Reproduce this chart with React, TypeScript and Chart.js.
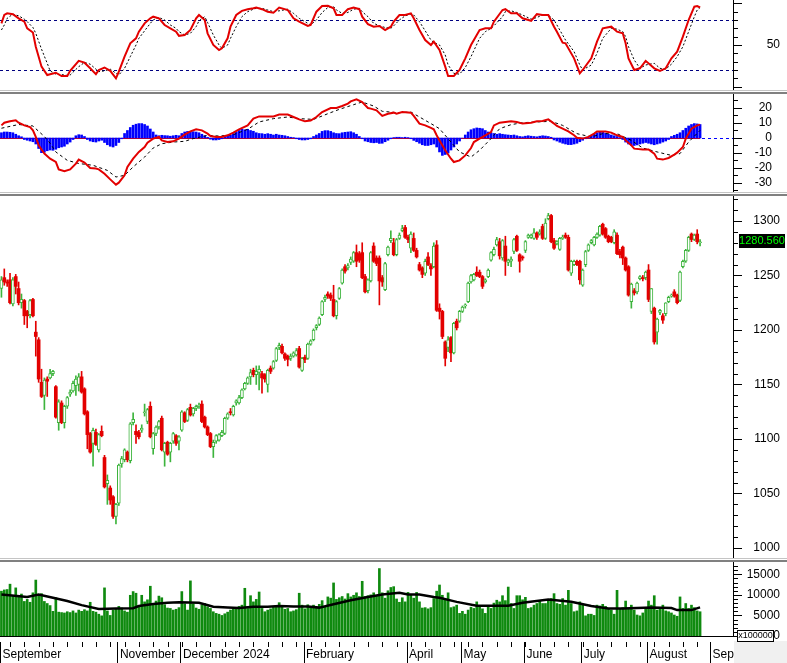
import React, { useEffect, useRef } from "react";
import { Chart, registerables } from "chart.js";

Chart.register(...registerables);

const FONT = "'Liberation Sans', Arial, Helvetica, sans-serif";
Chart.defaults.font.family = FONT;

// ---------------- DATA ----------------
const MONTH_LABELS = ["September", "November", "December", "2024", "February", "April", "May", "June", "July", "August", "September"];
const MONTH_START = [0, 41, 63, 84, 106, 142, 161, 183, 203, 226, 248];
const YEAR_MARK = [false, false, false, true, false, false, false, false, false, false, false];
const WEEK_TICKS = [3, 8, 13, 18, 23, 28, 33, 38, 43, 48, 53, 58, 63, 68, 73, 78, 83, 88, 93, 98, 103, 108, 113, 118, 123, 128, 133, 138, 143, 148, 153, 158, 163, 168, 173, 178, 183, 188, 193, 198, 203, 208, 213, 218, 223, 228, 233, 238, 243];

const OPEN = [
  1238, 1248, 1244, 1246, 1224, 1249, 1238, 1225, 1227, 1217,
  1214, 1228, 1198, 1191, 1152, 1140, 1155, 1156, 1160, 1148,
  1115, 1133, 1115, 1130, 1141, 1144, 1149, 1150, 1157, 1146,
  1125, 1105, 1096, 1106, 1090, 1107, 1083, 1059, 1055, 1047,
  1029, 1041, 1077, 1081, 1088, 1080, 1115, 1107, 1106, 1108,
  1124, 1116, 1130, 1091, 1105, 1111, 1119, 1088, 1097, 1088,
  1098, 1103, 1098, 1108, 1124, 1117, 1129, 1123, 1128, 1130,
  1132, 1120, 1111, 1105, 1093, 1098, 1099, 1103, 1105, 1119,
  1125, 1122, 1133, 1133, 1138, 1146, 1151, 1157, 1163, 1159,
  1161, 1160, 1159, 1150, 1165, 1165, 1172, 1184, 1185, 1178,
  1176, 1174, 1176, 1177, 1183, 1163, 1175, 1174, 1187, 1191,
  1202, 1205, 1214, 1228, 1233, 1232, 1228, 1213, 1229, 1243,
  1258, 1257, 1262, 1263, 1271, 1270, 1271, 1249, 1236, 1245,
  1277, 1266, 1266, 1248, 1237, 1269, 1282, 1280, 1269, 1284,
  1291, 1294, 1285, 1275, 1284, 1273, 1260, 1257, 1252, 1267,
  1259, 1258, 1278, 1220, 1217, 1189, 1184, 1193, 1179, 1208,
  1208, 1217, 1222, 1226, 1244, 1246, 1253, 1253, 1249, 1244,
  1249, 1264, 1269, 1278, 1281, 1266, 1277, 1262, 1263, 1272,
  1286, 1269, 1267, 1273, 1285, 1285, 1284, 1289, 1288, 1295,
  1284, 1302, 1305, 1282, 1279, 1274, 1284, 1287, 1285, 1252,
  1260, 1263, 1263, 1241, 1260, 1273, 1280, 1278, 1285, 1287,
  1297, 1293, 1286, 1285, 1280, 1287, 1272, 1276, 1266, 1258,
  1226, 1236, 1235, 1247, 1248, 1248, 1255, 1217, 1220, 1198,
  1216, 1213, 1215, 1226, 1231, 1235, 1232, 1227, 1258, 1263,
  1273, 1288, 1283, 1288, 1280,
];
const HIGH = [
  1249, 1256, 1246, 1252, 1248, 1251, 1244, 1233, 1228, 1218,
  1228, 1229, 1208, 1193, 1164, 1156, 1157, 1164, 1163, 1149,
  1136, 1135, 1131, 1139, 1145, 1153, 1158, 1160, 1162, 1147,
  1126, 1106, 1110, 1109, 1105, 1112, 1085, 1067, 1057, 1048,
  1041, 1077, 1084, 1091, 1089, 1115, 1124, 1113, 1108, 1113,
  1132, 1128, 1134, 1106, 1112, 1117, 1121, 1097, 1098, 1097,
  1106, 1104, 1103, 1126, 1125, 1128, 1132, 1129, 1131, 1133,
  1135, 1121, 1112, 1106, 1099, 1104, 1105, 1108, 1120, 1124,
  1128, 1131, 1136, 1140, 1146, 1152, 1157, 1164, 1165, 1167,
  1167, 1162, 1160, 1164, 1167, 1172, 1184, 1188, 1187, 1179,
  1177, 1178, 1180, 1183, 1185, 1175, 1177, 1188, 1191, 1201,
  1205, 1212, 1227, 1232, 1235, 1234, 1241, 1227, 1239, 1256,
  1260, 1261, 1267, 1272, 1278, 1272, 1280, 1251, 1247, 1272,
  1280, 1268, 1268, 1250, 1262, 1277, 1291, 1284, 1284, 1289,
  1296, 1296, 1287, 1290, 1289, 1275, 1262, 1258, 1265, 1271,
  1261, 1280, 1282, 1224, 1218, 1190, 1194, 1194, 1207, 1210,
  1218, 1222, 1224, 1244, 1251, 1252, 1258, 1255, 1250, 1247,
  1256, 1272, 1276, 1285, 1284, 1283, 1286, 1265, 1267, 1284,
  1287, 1270, 1268, 1282, 1288, 1288, 1293, 1290, 1292, 1297,
  1302, 1307, 1306, 1284, 1282, 1285, 1287, 1289, 1287, 1264,
  1264, 1264, 1264, 1256, 1273, 1279, 1283, 1286, 1289, 1296,
  1298, 1294, 1287, 1286, 1292, 1289, 1274, 1277, 1267, 1259,
  1243, 1238, 1244, 1250, 1250, 1254, 1260, 1238, 1221, 1211,
  1219, 1215, 1225, 1231, 1233, 1237, 1233, 1254, 1264, 1274,
  1286, 1289, 1288, 1292, 1283,
];
const LOW = [
  1230, 1241, 1240, 1224, 1222, 1233, 1223, 1220, 1205, 1202,
  1211, 1212, 1176, 1152, 1138, 1127, 1139, 1155, 1158, 1119,
  1108, 1114, 1110, 1128, 1139, 1143, 1140, 1144, 1142, 1122,
  1091, 1087, 1075, 1094, 1088, 1102, 1055, 1040, 1040, 1027,
  1022, 1039, 1074, 1079, 1079, 1078, 1113, 1096, 1100, 1106,
  1121, 1114, 1101, 1086, 1103, 1109, 1089, 1075, 1085, 1079,
  1096, 1094, 1090, 1107, 1115, 1116, 1121, 1121, 1126, 1128,
  1115, 1110, 1103, 1092, 1083, 1096, 1098, 1102, 1104, 1118,
  1122, 1121, 1131, 1132, 1137, 1145, 1150, 1150, 1157, 1150,
  1145, 1142, 1152, 1143, 1160, 1164, 1171, 1182, 1178, 1172,
  1167, 1172, 1175, 1176, 1165, 1162, 1170, 1173, 1186, 1190,
  1200, 1204, 1213, 1226, 1229, 1227, 1212, 1210, 1228, 1242,
  1252, 1255, 1260, 1262, 1258, 1262, 1247, 1234, 1234, 1244,
  1262, 1259, 1223, 1240, 1236, 1268, 1280, 1268, 1268, 1283,
  1290, 1284, 1280, 1271, 1272, 1266, 1254, 1248, 1250, 1259,
  1250, 1257, 1217, 1210, 1192, 1167, 1180, 1171, 1178, 1200,
  1207, 1216, 1220, 1225, 1243, 1245, 1249, 1248, 1238, 1243,
  1248, 1263, 1268, 1277, 1265, 1264, 1250, 1259, 1258, 1270,
  1272, 1253, 1264, 1271, 1284, 1284, 1283, 1283, 1287, 1283,
  1283, 1301, 1280, 1274, 1278, 1273, 1283, 1284, 1254, 1250,
  1259, 1259, 1242, 1240, 1258, 1272, 1279, 1277, 1284, 1286,
  1287, 1284, 1280, 1280, 1279, 1269, 1266, 1260, 1254, 1231,
  1220, 1232, 1233, 1246, 1245, 1246, 1226, 1215, 1187, 1187,
  1214, 1206, 1213, 1225, 1230, 1230, 1224, 1226, 1257, 1262,
  1272, 1281, 1282, 1279, 1277,
];
const CLOSE = [
  1246, 1244, 1243, 1225, 1246, 1240, 1225, 1228, 1213, 1213,
  1227, 1213, 1194, 1155, 1139, 1154, 1153, 1160, 1162, 1120,
  1134, 1115, 1130, 1138, 1143, 1151, 1155, 1157, 1143, 1123,
  1104, 1088, 1108, 1095, 1104, 1103, 1056, 1062, 1044, 1029,
  1040, 1076, 1082, 1090, 1081, 1114, 1118, 1104, 1102, 1110,
  1125, 1127, 1102, 1105, 1111, 1116, 1090, 1096, 1086, 1096,
  1105, 1096, 1102, 1125, 1116, 1127, 1122, 1128, 1130, 1131,
  1116, 1111, 1104, 1093, 1097, 1103, 1104, 1106, 1119, 1123,
  1124, 1130, 1135, 1138, 1145, 1151, 1156, 1161, 1159, 1162,
  1164, 1156, 1155, 1163, 1162, 1171, 1183, 1186, 1179, 1174,
  1173, 1176, 1179, 1181, 1166, 1174, 1173, 1187, 1190, 1200,
  1204, 1211, 1226, 1230, 1231, 1229, 1213, 1226, 1238, 1255,
  1254, 1259, 1265, 1271, 1263, 1264, 1248, 1235, 1246, 1271,
  1263, 1261, 1245, 1244, 1261, 1276, 1284, 1269, 1283, 1287,
  1293, 1285, 1283, 1288, 1273, 1267, 1255, 1251, 1263, 1260,
  1256, 1277, 1218, 1217, 1194, 1174, 1191, 1179, 1206, 1202,
  1217, 1221, 1223, 1243, 1250, 1251, 1250, 1249, 1240, 1246,
  1255, 1271, 1274, 1283, 1268, 1282, 1263, 1264, 1265, 1283,
  1273, 1263, 1266, 1281, 1287, 1287, 1289, 1285, 1290, 1284,
  1298, 1305, 1281, 1275, 1281, 1284, 1285, 1285, 1255, 1263,
  1263, 1260, 1246, 1255, 1272, 1278, 1282, 1285, 1288, 1295,
  1288, 1285, 1281, 1281, 1290, 1270, 1269, 1266, 1255, 1232,
  1242, 1234, 1243, 1249, 1247, 1253, 1228, 1238, 1189, 1210,
  1218, 1209, 1225, 1230, 1232, 1231, 1225, 1253, 1263, 1273,
  1285, 1283, 1287, 1281, 1280.56,
];
const VOLUME = [
  10900, 11200, 11300, 12600, 9700, 11700, 9500, 10200, 8400, 8900,
  8200, 10500, 13600, 10000, 10300, 8400, 7900, 7400, 6000, 9300,
  5800, 5700, 5600, 5900, 5700, 6100, 5600, 6300, 6000, 6400,
  6100, 8200, 6000, 5800, 5300, 4900, 11700, 6100, 5000, 6300,
  6700, 7200, 6800, 6100, 5800, 9900, 10800, 10400, 7400, 9900,
  8300, 8800, 12100, 7600, 8500, 9700, 9300, 7600, 6800, 6700,
  6300, 6500, 6900, 10800, 7800, 6300, 13400, 7800, 6800, 6500,
  7600, 7900, 7100, 6700, 5900, 5500, 5300, 5000, 5400, 5800,
  6300, 6600, 6800, 7200, 7500, 11600, 6700, 9800, 8300, 8900,
  10700, 6700, 5900, 6300, 6600, 7000, 7300, 8100, 7100, 6500,
  6700, 5900, 6100, 6400, 10400, 7500, 6600, 7600, 7100, 7500,
  6900, 7700, 8600, 7100, 9500, 9200, 12900, 8900, 9300, 9600,
  9000, 10300, 9500, 9900, 10500, 9600, 13300, 9600, 9800, 10000,
  10500, 9700, 16400, 10500, 9200, 11000, 11800, 12000, 9000, 8200,
  9300, 8300, 10600, 10100, 9200, 10600, 8300, 6800, 6900, 6600,
  6900, 9100, 10900, 12400, 9900, 8800, 10500, 6900, 7100, 7500,
  5500, 6000, 5300, 6300, 7000, 6700, 8300, 7200, 6600, 5500,
  7300, 6700, 8000, 8700, 8300, 9800, 8600, 11900, 7900, 6700,
  9800, 9800, 8800, 9400, 6700, 6900, 7500, 7900, 8500, 7900,
  7900, 8500, 9100, 10300, 7900, 7700, 9100, 7500, 11100, 7900,
  5900, 6100, 8300, 7500, 4900, 5300, 5300, 5000, 7500, 7300,
  7700, 7200, 6700, 6300, 5300, 11100, 6700, 6900, 8500, 6700,
  7500, 6300, 5100, 4900, 5600, 6700, 8500, 7500, 9800, 6300,
  6700, 7500, 6100, 5900, 5600, 5100, 4800, 9500, 6700, 7900,
  6700, 7500, 6900, 6100, 5900,
];
const VOL_MA_X = [0, 9, 13, 18, 23, 28, 34, 40, 46, 48, 53, 58, 62, 69, 74, 79, 83, 88, 93, 97, 102, 107, 111, 116, 122, 128, 133, 139, 142, 146, 151, 153, 159, 166, 177, 182, 191, 199, 206, 212, 217, 227, 234, 236, 241, 244];
const VOL_MA = [10100, 9500, 10100, 9300, 8500, 7500, 6550, 6700, 6750, 7300, 7770, 8100, 8200, 8100, 7100, 6900, 6800, 7100, 7100, 7300, 7200, 7200, 6900, 7700, 8700, 9500, 10100, 10500, 10100, 10100, 9500, 9300, 8300, 7350, 7350, 8100, 8900, 8300, 7300, 6700, 6700, 6900, 6800, 6300, 6300, 6950];

const STOCH_X = [
  0, 1, 2, 4, 6, 8, 9, 11, 12, 14,
  16, 17, 19, 21, 23, 24, 27, 29, 31, 33,
  34, 36, 38, 40, 41, 43, 45, 47, 48, 50,
  52, 53, 55, 57, 59, 61, 62, 64, 66, 68,
  69, 71, 72, 74, 76, 77, 79, 80, 82, 84,
  86, 88, 89, 91, 93, 95, 97, 100, 102, 104,
  107, 108, 110, 112, 114, 116, 117, 119, 121, 123,
  125, 126, 128, 130, 132, 134, 136, 137, 139, 141,
  143, 144, 146, 148, 150, 151, 153, 155, 156, 158,
  160, 162, 164, 167, 169, 171, 172, 175, 176, 178,
  180, 182, 185, 187, 189, 191, 193, 194, 196, 197,
  200, 202, 203, 206, 208, 210, 213, 215, 217, 218,
  219, 221, 223, 225, 228, 230, 232, 234, 236, 238,
  240, 242, 243, 244,
];
const STOCH_K = [
  76, 86, 88, 87, 82, 78, 70, 65, 48, 24,
  14, 15, 16.7, 12.8, 12.8, 19, 31, 28.8, 22, 15,
  20, 23, 19, 10, 18, 36, 52, 58, 66, 76,
  82, 84, 82, 74, 70, 66, 61, 62, 68, 82,
  86, 80, 64, 50, 44, 46, 58, 72, 86, 91,
  93, 94, 95, 93, 90, 88.8, 95, 92, 82, 78,
  72.8, 74, 90, 96.8, 97, 94, 86, 86, 93, 95,
  93, 84, 75, 72, 72.8, 68, 72, 78, 86, 86,
  88, 82, 68, 56, 50, 54, 44, 24, 12.8, 12.8,
  20, 34, 50, 68, 70, 70, 78, 92, 93, 88,
  88, 82, 79, 87, 86, 86, 72, 66, 52.8, 52,
  34, 16, 20, 34, 54, 70, 72, 66, 64, 52,
  34, 20, 22, 31, 22, 19, 22, 34, 42, 60,
  80, 96, 96.8, 95,
];
const STOCH_D = [
  68, 74, 82, 87, 85, 81, 78, 71, 64, 45,
  28, 19, 15, 14.5, 13.5, 14, 24, 29, 27, 21,
  18, 19, 21, 16, 14, 22, 36, 50, 58, 67,
  76, 80, 83, 80, 74, 70, 66, 62, 64, 72,
  79, 84, 77, 62, 50, 46, 50, 58, 72, 84,
  90, 93, 94, 94, 92, 90, 91, 93, 88, 82,
  76, 74, 80, 89, 95, 96, 92, 88, 89, 93,
  94, 90, 84, 76, 73, 71, 70, 73, 80, 85,
  87, 86, 78, 67, 56, 53, 50, 38, 26, 16,
  15, 23, 36, 58, 66, 70, 73, 84, 90, 91,
  89, 86, 81, 83, 86, 86, 80, 74, 62, 56,
  42, 26, 20, 26, 40, 58, 70, 69, 66, 60,
  48, 32, 22, 26, 28, 22, 21, 27, 36, 48,
  66, 84, 92, 95,
];

const MACD_X = [
  0, 1, 3, 5, 6, 8, 10, 11, 12, 13,
  15, 17, 19, 20, 22, 24, 26, 27, 29, 31,
  33, 34, 36, 38, 40, 41, 43, 44, 46, 48,
  50, 51, 53, 55, 56, 58, 60, 62, 64, 66,
  68, 70, 72, 73, 75, 77, 79, 81, 83, 86,
  88, 90, 93, 95, 97, 100, 102, 104, 106, 108,
  110, 112, 115, 117, 119, 121, 122, 124, 126, 128,
  129, 131, 133, 135, 137, 138, 140, 143, 144, 146,
  148, 150, 151, 152, 153, 155, 157, 158, 160, 162,
  164, 165, 167, 169, 171, 172, 174, 176, 178, 180,
  182, 185, 187, 189, 191, 193, 194, 196, 198, 200,
  201, 203, 205, 207, 208, 211, 213, 215, 217, 218,
  220, 221, 224, 226, 228, 229, 231, 233, 235, 236,
  238, 239, 241, 243, 244,
];
const MACD_LINE = [
  8.4, 10.2, 11.1, 11.8, 10.2, 8.4, 7.3, 5.1, 0.7, -4.9,
  -10.4, -13.8, -16, -20.9, -22.2, -20.9, -17.1, -14.4, -16.4, -20,
  -20.4, -20.9, -23.8, -27.6, -31.1, -29.8, -24.9, -19.3, -13.8, -9.3,
  -6, -3.1, -0.4, 0.7, -1.6, -2.7, -2.2, -0.4, 2.2, 4.4,
  5.8, 5.1, 2.9, 1.3, 0.7, 0.7, 1.8, 3.6, 5.8, 8.4,
  12.9, 14.4, 14.4, 14.4, 15.6, 15.6, 14, 12.4, 11.1, 11.6,
  14, 17.3, 20, 20, 21.3, 22.9, 24.4, 25.8, 24, 20,
  19.6, 18.4, 14.7, 16.2, 16.9, 16.2, 17.3, 16.9, 14.7, 9.6,
  8.4, 6.7, 5.8, 1.8, -1.6, -8.2, -13.8, -16, -14.9, -11.6,
  -6.7, -2.7, -0.4, 1.8, 4, 8.4, 10.2, 10.7, 11.1, 10.7,
  9.6, 10.2, 11.1, 11.3, 12.4, 9.6, 8, 6.2, 4.4, 1.8,
  0.2, -0.4, 0.7, 2.9, 4.4, 4.4, 3.6, 1.8, 0.7, -1.6,
  -4.9, -7.1, -7.6, -7.6, -10.4, -13.8, -14.4, -13.3, -11.1, -9.8,
  -6, -0.4, 6.2, 8.4, 8.9,
];
const SIGNAL_X = [0, 6, 11, 12, 15, 17, 19, 23, 27, 32, 37, 40, 43, 46, 50, 53, 56, 60, 64, 67, 72, 76, 81, 86, 90, 95, 100, 104, 109, 114, 118, 123, 126, 130, 133, 138, 143, 146, 150, 153, 157, 160, 164, 167, 171, 174, 178, 182, 187, 192, 196, 201, 206, 210, 215, 220, 224, 229, 234, 237, 240, 244];
const SIGNAL_LINE = [6.5, 9, 8, 6.2, 1, -3.5, -9.3, -14.9, -17, -18.2, -21.6, -26, -24.9, -19.3, -12.7, -6.7, -3.8, -2.7, -2.2, -0.4, 1.8, 1.3, 2.2, 5.8, 10.7, 12.9, 14, 12.9, 12.4, 16.2, 19.1, 22.2, 24, 21.3, 17.8, 16.9, 17.3, 14, 9.6, 6.2, -2.7, -9.3, -12.7, -8.2, -0.4, 6.2, 8.9, 10.2, 10.7, 11.1, 8.4, 2.9, 0.7, 2.9, 2.9, -1.6, -6.7, -9.3, -11.6, -10.4, -2.7, 5.1];
const MACD_HIST = [
  3.5, 4, 4, 3.8, 3.5, 2.5, 1.5, 0.8, -1, -1.5,
  -2, -2.5, -4, -7, -9.8, -9.5, -8.5, -8, -8.2, -7.5,
  -6.5, -6, -5.5, -4, -2.7, -1, 1.5, 2.2, 2, 1,
  -1, -2, -2.5, -2.7, -2, -1.5, -3, -4.5, -5.5, -6,
  -5, -3, -0.5, 3, 5, 7, 8.5, 9.2, 9.6, 9.6,
  9, 8, 6, 4, 2, 1.5, 1.8, 1.6, 1.5, 1.2,
  1.5, 1.8, 1.5, 3, 4, 4.4, 4.4, 4.2, 4, 3.5,
  2.5, 1.5, 0.5, -0.8, -1.3, -1.3, -1, -0.5, 0.5, 1.5,
  2, 3, 4, 5, 5.8, 5.5, 5.8, 5, 4.5, 3.5,
  3, 2.9, 2.5, 2.9, 2.5, 2, 2.5, 2, 1.8, 1.5,
  1, 0.5, 0.3, -0.5, -1, -1.3, -1.3, -1, -0.5, 1,
  2, 3, 4.4, 4.9, 4.9, 4.4, 3.5, 3, 2.9, 3.5,
  3.8, 4, 4.2, 3.5, 2.5, 1, -0.5, -2, -2.5, -3,
  -3.2, -3, -3.6, -3.5, -2.5, -1.5, -0.5, 0.3, 0.5, 0.5,
  0.3, 0.5, 0.3, -0.5, -1.6, -2.5, -3.5, -4.5, -5, -5,
  -4.5, -4, -6, -9.3, -11.6, -11, -10, -8, -6, -4,
  -2, 0, 2, 4, 5.5, 6.2, 6.7, 6.5, 6.2, 5,
  4, 3.5, 3, 2.5, 2.9, 2.5, 2.2, 2, 1.8, 2,
  1.5, 1, 0.8, 1.2, 1.5, 1.2, 1, 0.8, 1.2, 1.5,
  1.3, 1, 0.5, -1.3, -2, -2.8, -3.5, -4, -4.4, -4.4,
  -4, -3.5, -2.5, -1.5, -0.5, 0.5, 1.8, 2.5, 3.5, 4,
  3.8, 3.2, 2.5, 2, 1.5, 1, 0.3, -1, -2.7, -4,
  -4.9, -5, -4.6, -4, -3.5, -3, -3.5, -4, -4.5, -4,
  -3.5, -2.7, -2, -1, 1, 1.8, 2.5, 3.5, 5, 6.5,
  8, 9, 9.6, 9.4, 9,
];

const PRICE_LABELS = [1000, 1050, 1100, 1150, 1200, 1250, 1300];
const STOCH_LABELS = [50];
const STOCH_LEVELS = [20, 80];
const MACD_LABELS = [-30, -20, -10, 0, 10, 20];
const VOL_LABELS = [0, 5000, 10000, 15000];
const VOL_UNIT = "x100000";

// ---------------- STYLE / LAYOUT ----------------
const W = 787;
const AXIS_W = 54;
const SLOTS = 256;
const RED = "#e30000";
const GREEN = "#3db43d";
const VOL_GREEN = "#0f8a0f";
const BLUE = "#0000ff";
const NAVY = "#000080";

const range = (a: number, b: number, s: number) => {
  const out: number[] = [];
  for (let v = a; v <= b + 1e-9; v += s) out.push(v);
  return out;
};
const pts = (xs: number[], ys: number[]) => xs.map((x, i) => ({ x, y: ys[i] }));
const IDX = CLOSE.map((_, i) => i);

const common = {
  responsive: false,
  animation: false,
  events: [],
  layout: { padding: 0 },
  plugins: { legend: { display: false }, tooltip: { enabled: false } },
};

const hiddenX = () => ({ type: "linear", min: -0.5, max: SLOTS - 0.5, offset: false, display: false });

function yScale(min: number, max: number) {
  return {
    type: "linear",
    position: "right",
    min,
    max,
    afterFit: (s: any) => {
      s.width = AXIS_W;
      s.paddingTop = 0;
      s.paddingBottom = 0;
    },
    grid: { display: false, drawTicks: false },
    border: { display: true, color: "#000", width: 1 },
    ticks: { display: false },
  };
}

// y-axis tick marks + right-aligned tick labels + reference lines
function decor(opts: { minor: number[]; major: number[]; labels: number[]; labelRight: number; hlines?: any[] }) {
  return {
    id: "decor",
    beforeDatasetsDraw(chart: any) {
      const { ctx, chartArea: ca, scales } = chart;
      ctx.save();
      for (const h of opts.hlines || []) {
        const py = Math.round(scales.y.getPixelForValue(h.v)) + 0.5;
        const x1 = h.to !== undefined ? scales.x.getPixelForValue(h.to) : ca.right;
        ctx.strokeStyle = h.color;
        ctx.lineWidth = 1;
        ctx.setLineDash(h.dash || []);
        ctx.beginPath();
        ctx.moveTo(ca.left, py);
        ctx.lineTo(x1, py);
        ctx.stroke();
      }
      ctx.restore();
    },
    afterDraw(chart: any) {
      const { ctx, chartArea: ca, scales } = chart;
      ctx.save();
      ctx.strokeStyle = "#000";
      ctx.lineWidth = 1;
      ctx.beginPath();
      for (const v of opts.minor) {
        const py = Math.round(scales.y.getPixelForValue(v)) + 0.5;
        const len = opts.major.includes(v) ? 8 : 4;
        ctx.moveTo(ca.right, py);
        ctx.lineTo(ca.right + 1 + len, py);
      }
      ctx.stroke();
      ctx.fillStyle = "#000";
      ctx.font = `12px ${FONT}`;
      ctx.textAlign = "right";
      ctx.textBaseline = "middle";
      for (const v of opts.labels) {
        ctx.fillText(String(v), opts.labelRight, scales.y.getPixelForValue(v));
      }
      ctx.restore();
    },
  };
}

function stochConfig() {
  return {
    type: "line",
    data: {
      datasets: [
        { data: pts(STOCH_X, STOCH_D), borderColor: "#000", borderWidth: 1, borderDash: [2, 2], pointRadius: 0, order: 2 },
        { data: pts(STOCH_X, STOCH_K), borderColor: RED, borderWidth: 2, pointRadius: 0, order: 1 },
      ],
    },
    options: { ...common, scales: { x: hiddenX(), y: yScale(-4, 104) } },
    plugins: [
      decor({
        minor: range(0, 100, 10),
        major: [0, 50, 100],
        labels: STOCH_LABELS,
        labelRight: 780,
        hlines: STOCH_LEVELS.map((v) => ({ v, color: NAVY, dash: [3, 3] })),
      }),
    ],
  };
}

function macdConfig() {
  return {
    type: "bar",
    data: {
      datasets: [
        { type: "line", data: pts(SIGNAL_X, SIGNAL_LINE), borderColor: "#000", borderWidth: 1, borderDash: [3, 3], pointRadius: 0, order: 1 },
        { type: "line", data: pts(MACD_X, MACD_LINE), borderColor: RED, borderWidth: 2, pointRadius: 0, order: 0 },
        { data: IDX.map((i) => ({ x: i, y: MACD_HIST[i] })), backgroundColor: BLUE, barThickness: 2, order: 3 },
      ],
    },
    options: { ...common, scales: { x: hiddenX(), y: yScale(-36, 29.33) } },
    plugins: [
      decor({
        minor: range(-35, 25, 5),
        major: MACD_LABELS,
        labels: MACD_LABELS,
        labelRight: 772,
        hlines: [
          { v: 0, color: BLUE, dash: [3, 3] },
          { v: 0, color: RED, dash: [], to: IDX[IDX.length - 1] },
        ],
      }),
    ],
  };
}

function priceConfig() {
  const up = IDX.map((i) => CLOSE[i] >= OPEN[i]);
  const lastLabel = {
    id: "lastLabel",
    afterDraw(chart: any) {
      const { ctx, scales } = chart;
      const last = CLOSE[CLOSE.length - 1];
      const py = scales.y.getPixelForValue(last);
      ctx.save();
      ctx.fillStyle = "#000";
      ctx.fillRect(739, Math.round(py) - 8, 46, 14);
      ctx.fillStyle = "#00ff00";
      ctx.font = `11px ${FONT}`;
      ctx.textAlign = "center";
      ctx.textBaseline = "middle";
      ctx.fillText(last.toFixed(3), 762, Math.round(py) - 1);
      ctx.restore();
    },
  };
  return {
    type: "bar",
    data: {
      datasets: [
        {
          data: IDX.map((i) => ({ x: i, y: [LOW[i], HIGH[i]] })),
          backgroundColor: up.map((u) => (u ? GREEN : RED)),
          grouped: false,
          barThickness: 1,
          maxBarThickness: 1,
          order: 2,
        },
        {
          data: IDX.map((i) => ({ x: i, y: [OPEN[i], CLOSE[i]] })),
          backgroundColor: up.map((u) => (u ? "#ffffff" : RED)),
          borderColor: up.map((u) => (u ? GREEN : RED)),
          borderWidth: up.map((u) => (u ? 1 : 0)),
          borderSkipped: false,
          minBarLength: 1,
          grouped: false,
          barThickness: 3,
          maxBarThickness: 3,
          order: 1,
        },
      ],
    },
    options: { ...common, scales: { x: hiddenX(), y: yScale(990.8, 1322.9) } },
    plugins: [decor({ minor: range(1000, 1320, 10), major: PRICE_LABELS, labels: PRICE_LABELS, labelRight: 780 }), lastLabel],
  };
}

function volumeConfig() {
  const xAxisDecor = {
    id: "xAxisDecor",
    afterDraw(chart: any) {
      const { ctx, chartArea: ca, scales } = chart;
      const h = chart.height;
      ctx.save();
      ctx.strokeStyle = "#000";
      ctx.lineWidth = 1;
      ctx.beginPath();
      for (const i of WEEK_TICKS) {
        const px = Math.round(scales.x.getPixelForValue(i)) + 0.5;
        ctx.moveTo(px, ca.bottom + 6);
        ctx.lineTo(px, ca.bottom + 11);
      }
      MONTH_START.forEach((m, k) => {
        if (YEAR_MARK[k]) return;
        const px = Math.round(scales.x.getPixelForValue(m - 0.5)) + 0.5;
        ctx.moveTo(px, ca.bottom + 6);
        ctx.lineTo(px, h);
      });
      ctx.stroke();
      // grey corner under the value axis
      ctx.fillStyle = "#f0f0f0";
      ctx.fillRect(ca.right + 1, ca.bottom + 5, W - ca.right, h - ca.bottom);
      // unit box
      ctx.fillStyle = "#fff";
      ctx.fillRect(737, ca.bottom - 6, 36, 11);
      ctx.strokeStyle = "#000";
      ctx.strokeRect(737.5, ca.bottom - 5.5, 36, 11);
      ctx.fillStyle = "#000";
      ctx.font = `9px ${FONT}`;
      ctx.textAlign = "center";
      ctx.textBaseline = "middle";
      ctx.fillText(VOL_UNIT, 755.5, ca.bottom);
      ctx.restore();
    },
  };
  return {
    type: "bar",
    data: {
      datasets: [
        { type: "line", data: pts(VOL_MA_X, VOL_MA), borderColor: "#000", borderWidth: 2.5, pointRadius: 0, order: 0 },
        { data: IDX.map((i) => ({ x: i, y: VOLUME[i] })), backgroundColor: VOL_GREEN, barThickness: 2, order: 1 },
      ],
    },
    options: {
      ...common,
      scales: {
        x: {
          type: "linear",
          min: -0.5,
          max: SLOTS - 0.5,
          offset: false,
          position: "bottom",
          afterBuildTicks: (s: any) => {
            s.ticks = MONTH_START.map((m) => ({ value: m - 0.5 }));
          },
          afterFit: (s: any) => {
            s.height = 27;
            s.paddingLeft = 0;
            s.paddingRight = 0;
          },
          grid: { display: false, drawTicks: false, offset: false },
          border: { display: true, color: "#000", width: 1 },
          ticks: {
            autoSkip: false,
            maxRotation: 0,
            minRotation: 0,
            align: "start",
            labelOffset: 2.5,
            padding: 11,
            color: "#000",
            font: { family: FONT, size: 12 },
            callback: (_v: any, i: number) => MONTH_LABELS[i],
          },
        },
        y: yScale(0, 17990),
      },
    },
    plugins: [decor({ minor: range(0, 17000, 1000), major: VOL_LABELS, labels: VOL_LABELS, labelRight: 780 }), xAxisDecor],
  };
}

function Panel({ top, height, build }: { top: number; height: number; build: () => any }) {
  const ref = useRef<HTMLCanvasElement | null>(null);
  useEffect(() => {
    const chart = new Chart(ref.current as HTMLCanvasElement, build());
    return () => chart.destroy();
  }, []);
  return (
    <canvas
      ref={ref}
      width={W}
      height={height}
      style={{ position: "absolute", left: 0, top, width: W, height, display: "block" }}
    />
  );
}

function Sep({ top }: { top: number }) {
  return (
    <div
      style={{
        position: "absolute",
        left: 0,
        top,
        width: W,
        height: 1,
        background: "#fff",
        borderTop: "1px solid #c4c4c4",
        borderBottom: "2px solid #808080",
      }}
    />
  );
}

export default function App() {
  return (
    <div style={{ position: "fixed", left: 0, top: 0, width: W, height: 663, background: "#fff", overflow: "hidden" }}>
      <Panel top={0} height={90} build={stochConfig} />
      <Sep top={90} />
      <Panel top={94} height={98} build={macdConfig} />
      <Sep top={192} />
      <Panel top={196} height={362} build={priceConfig} />
      <Sep top={558} />
      <Panel top={562} height={101} build={volumeConfig} />
    </div>
  );
}
